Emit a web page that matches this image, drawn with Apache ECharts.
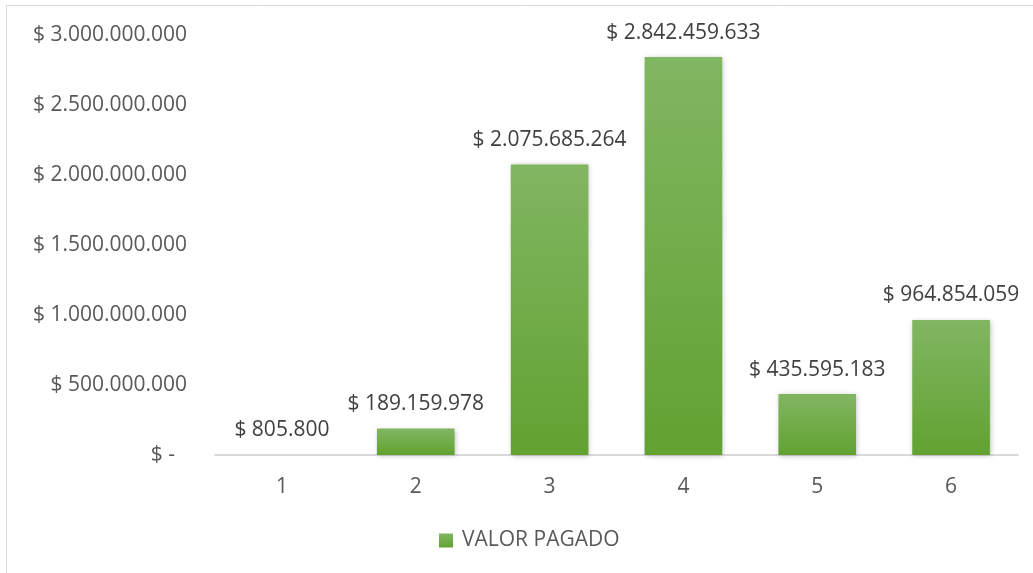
<!DOCTYPE html>
<html>
<head>
<meta charset="utf-8">
<script src="https://cdn.jsdelivr.net/npm/echarts@6/dist/echarts.min.js"></script>
<style>
  html, body { margin: 0; padding: 0; background: #fff; }
  #chart { width: 1033px; height: 573px; }
</style>
</head>
<body>
<div id="chart"></div>
<script>
// datos
var categorias = ['1', '2', '3', '4', '5', '6']
var valorPagado = [805800, 189159978, 2075685264, 2842459633, 435595183, 964854059]
var nombreSerie = 'VALOR PAGADO'

var fontFam = '"Open Sans", "Noto Sans", sans-serif'
var fs = 21

// formato con puntos de miles
function miles(v) {
  return String(Math.round(v)).replace(/\B(?=(\d{3})+(?!\d))/g, '.')
}

var myChart = echarts.init(document.getElementById('chart'))

var option = {
  animation: false,
  graphic: [{
    type: 'rect',
    shape: { x: 6.5, y: 5.5, width: 1030, height: 575 },
    style: { fill: 'none', stroke: '#d9d9d9', lineWidth: 1 },
    silent: true
  }],
  grid: { left: 215, right: 15, top: 35, bottom: 118 },
  legend: {
    top: 525,
    left: 434,
    icon: 'rect',
    itemWidth: 14,
    itemHeight: 14,
    itemGap: 10,
    textStyle: { color: '#595959', fontSize: fs, fontFamily: fontFam, padding: [0, 0, 0, 4] },
    data: [nombreSerie]
  },
  xAxis: {
    type: 'category',
    data: categorias,
    axisLine: { lineStyle: { color: '#d9d9d9', width: 2 } },
    axisTick: { show: false },
    axisLabel: { color: '#595959', fontSize: fs, fontFamily: fontFam, margin: 22 }
  },
  yAxis: {
    type: 'value',
    min: 0,
    max: 3000000000,
    interval: 500000000,
    splitLine: { show: false },
    axisLine: { show: false },
    axisTick: { show: false },
    axisLabel: {
      color: '#595959',
      fontSize: fs,
      fontFamily: fontFam,
      margin: 28,
      formatter: function (v) {
        if (v === 0) return '{z|$ -}'
        return '$ ' + miles(v)
      },
      rich: {
        z: { color: '#595959', fontSize: fs, fontFamily: fontFam, padding: [0, 12, 0, 0] }
      }
    }
  },
  series: [{
    name: nombreSerie,
    type: 'bar',
    data: valorPagado,
    barWidth: '58%',
    itemStyle: {
      color: new echarts.graphic.LinearGradient(0, 0, 0, 1, [
        { offset: 0, color: '#81b662' },
        { offset: 1, color: '#61a231' }
      ]),
      shadowColor: 'rgba(0,0,0,0.25)',
      shadowBlur: 5,
      shadowOffsetX: 1,
      shadowOffsetY: 1
    },
    label: {
      show: true,
      position: 'top',
      distance: 14,
      color: '#404040',
      fontSize: fs,
      fontFamily: fontFam,
      formatter: function (p) { return '$ ' + miles(p.value) }
    }
  }]
}

myChart.setOption(option)
</script>
</body>
</html>
